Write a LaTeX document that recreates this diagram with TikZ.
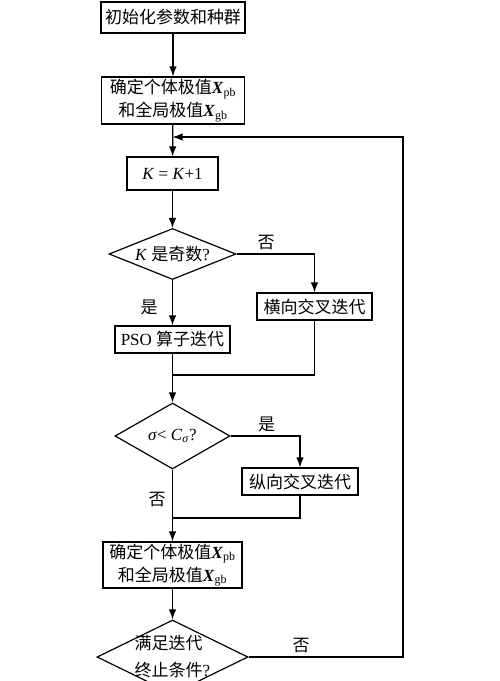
\documentclass[tikz,border=0pt]{standalone}
\usepackage{fontspec}
\setmainfont{Liberation Serif}
\newfontfamily\cjk{Noto Sans CJK SC}
\usetikzlibrary{arrows.meta}
\usetikzlibrary{shapes.geometric}

\newcommand{\xbest}[1]{\textbf{\textit{X}}\textsubscript{#1}}

\begin{document}
\begin{tikzpicture}[x=1pt, y=-1pt, line width=1.2pt, font=\fontsize{17}{23}\selectfont,
	line/.style={>={Latex[length=10pt, width=7.5pt]}},
	box/.style={draw, inner sep=1pt},
	cond/.style={draw, diamond, inner sep=0pt}]

	\useasboundingbox (0,0) rectangle (500,681);
	\clip (0,0) rectangle (500,681);

	\node[box, minimum width=144pt, minimum height=31pt] (init) at (173,17.5) {{\cjk 初始化参数和种群}};
	\node[box, minimum width=143pt, minimum height=47pt, align=center] (best1) at (173,100.5)
		{{\cjk 确定个体极值}\xbest{pb}\\{\cjk 和全局极值}\xbest{gb}};
	\node[box, minimum width=91pt, minimum height=33pt] (inc) at (172.5,173.5) {\textit{K} = \textit{K}+1};
	\node[cond, aspect=2.5, minimum width=127pt, minimum height=51pt, inner sep=-2pt] (odd) at (172.5,254) {\textit{K} {\cjk 是奇数}?};
	\node[box, minimum width=115pt, minimum height=27pt] (cross1) at (314.5,306.5) {{\cjk 横向交叉迭代}};
	\node[box, minimum width=115pt, minimum height=27pt] (pso) at (172.5,339.5) {PSO {\cjk 算子迭代}};
	\node[cond, aspect=1.75, minimum width=115pt, minimum height=66pt] (sigma) at (172.5,436)
		{\textit{σ}< \textit{C}\textsubscript{\textit{σ}}?};
	\node[box, minimum width=116pt, minimum height=27pt] (cross2) at (300,481.5) {{\cjk 纵向交叉迭代}};
	\node[box, minimum width=139pt, minimum height=46pt, align=center] (best2) at (172.5,565)
		{{\cjk 确定个体极值}\xbest{pb}\\{\cjk 和全局极值}\xbest{gb}};
	\node[cond, aspect=2, minimum width=151pt, minimum height=74pt, inner sep=-6pt, align=left,
		font=\fontsize{17}{27}\selectfont] (stop) at (172.5,657)
		{{\cjk 满足迭代}\\{\cjk 终止条件}?};

	\coordinate (merge1) at (172.5,375);
	\coordinate (merge2) at (172.5,518);
	\coordinate (back) at (403,137);
	\coordinate (join) at (172.5,137);

	\draw[->, line] (init) -- (best1);
	\draw[->, line] (best1) -- (inc);
	\draw[->, line] (inc) -- (odd);
	\draw[->, line] (odd.east) -| node[pos=0.19, above] {\cjk 否} (cross1.north);
	\draw[->, line] (odd) -- node[pos=0.6, left=11pt] {\cjk 是} (pso);
	\draw (cross1.south) |- (merge1);
	\draw[->, line] (pso) -- (sigma);
	\draw[->, line] (sigma.east) -| node[pos=0.26, above] {\cjk 是} (cross2.north);
	\draw[->, line] (sigma) -- node[pos=0.42, left=3pt] {\cjk 否} (best2);
	\draw (cross2.south) |- (merge2);
	\draw[->, line] (best2) -- (stop);
	\draw[->, line] (stop.east) -- node[pos=0.34, above] {\cjk 否} (stop.east -| back) -- (back) -- (join);

\end{tikzpicture}
\end{document}
